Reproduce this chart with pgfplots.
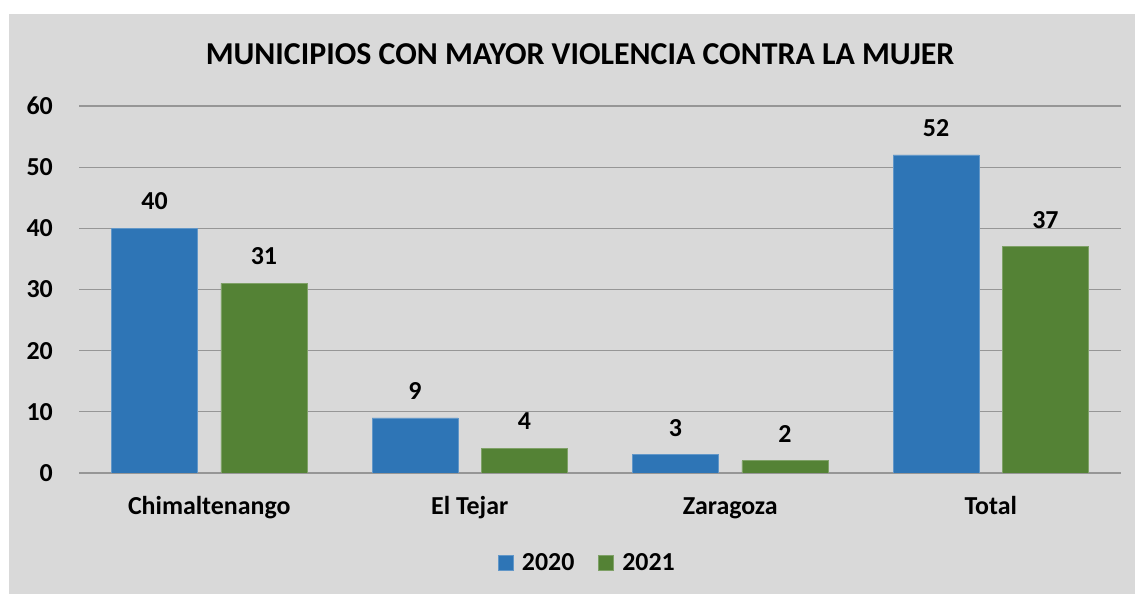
\documentclass[border=0pt]{standalone}
\usepackage{fontspec}
\setmainfont{Carlito}
\usepackage{pgfplots}
\pgfplotsset{compat=1.18}
\definecolor{bg}{HTML}{D9D9D9}
\definecolor{blue20}{HTML}{2E75B6}
\definecolor{green21}{HTML}{548235}
\definecolor{gridc}{RGB}{150,150,150}
\pgfplotsset{sqleg/.style={legend image code/.code={\fill[##1] (0bp,-7.5bp) rectangle (15bp,7.5bp);}}}
\begin{document}
\begin{tikzpicture}[x=1bp,y=1bp]
\fill[white] (0,0) rectangle (1135,594);
\fill[bg] (9,0) rectangle (1135,580);
\node[font=\fontsize{32}{36}\selectfont\bfseries] at (580,540) {MUNICIPIOS CON MAYOR VIOLENCIA CONTRA LA MUJER};
\begin{axis}[at={(79bp,121bp)}, anchor=south west, scale only axis,
  width=1042bp, height=367bp,
  ymin=0, ymax=60, xmin=-0.5, xmax=3.5,
  ybar, bar width=0.33,
  xtick={0,1,2,3}, xticklabels={Chimaltenango, El Tejar, Zaragoza, Total},
  ytick={0,10,...,60}, ymajorgrids, grid style={gridc, line width=1.2bp},
  axis line style={draw=none}, major tick length=0,
  tick label style={font=\fontsize{26}{30}\selectfont\bfseries},
  /pgf/number format/assume math mode=true,
  yticklabel style={anchor=east, inner sep=0pt, xshift=-26bp},
  xticklabel style={anchor=base, inner sep=0pt, yshift=-42bp},
  nodes near coords,
  every node near coord/.append style={font=\fontsize{26}{30}\selectfont\bfseries, anchor=center, yshift=27bp, /pgf/number format/assume math mode=true},
  legend style={at={(0.4870,-0.245)}, anchor=center, draw=none, fill=none,
    legend columns=2, font=\fontsize{26}{30}\selectfont\bfseries,
    nodes={inner sep=0pt},
    /tikz/every odd column/.append style={column sep=8bp},
    /tikz/every even column/.append style={column sep=24bp}},
]
\addplot[fill=blue20, draw=blue20!75!white, line width=0.8bp, bar shift=-0.21, sqleg] coordinates {(0,40) (1,9) (2,3) (3,52)};
\addplot[fill=green21, draw=green21!75!white, line width=0.8bp, bar shift=0.21, sqleg] coordinates {(0,31) (1,4) (2,2) (3,37)};
\legend{2020, 2021}
\end{axis}
\end{tikzpicture}
\end{document}
